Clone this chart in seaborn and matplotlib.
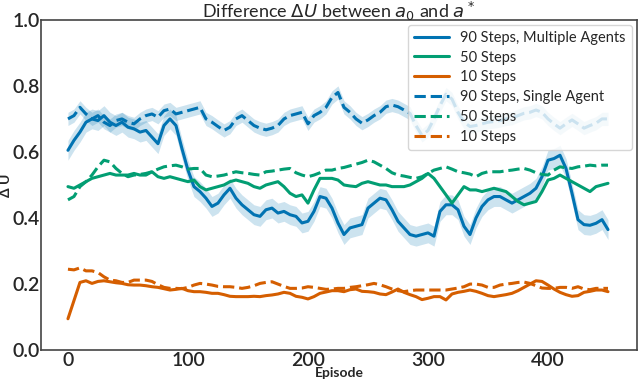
import numpy as np
import pandas as pd
import matplotlib
matplotlib.use("Agg")
import matplotlib.pyplot as plt
import seaborn as sns

episodes = list(range(0, 451, 5))

multi_90 = [0.605, 0.635, 0.66, 0.69, 0.70, 0.695, 0.71, 0.69, 0.68, 0.69,
            0.675, 0.67, 0.66, 0.665, 0.645, 0.625, 0.68, 0.70, 0.68, 0.61,
            0.545, 0.495, 0.48, 0.46, 0.435, 0.445, 0.47, 0.49, 0.46, 0.44,
            0.425, 0.41, 0.405, 0.425, 0.43, 0.415, 0.42, 0.41, 0.405, 0.385,
            0.39, 0.42, 0.465, 0.46, 0.43, 0.385, 0.35, 0.37, 0.375, 0.38,
            0.43, 0.445, 0.46, 0.455, 0.425, 0.39, 0.37, 0.35, 0.345, 0.35,
            0.355, 0.345, 0.42, 0.44, 0.44, 0.425, 0.375, 0.35, 0.40, 0.435,
            0.455, 0.465, 0.465, 0.455, 0.445, 0.455, 0.465, 0.475, 0.49, 0.525,
            0.575, 0.58, 0.59, 0.55, 0.475, 0.395, 0.38, 0.378, 0.384, 0.395,
            0.365]
single_90 = [0.70, 0.71, 0.735, 0.715, 0.70, 0.71, 0.69, 0.68, 0.695, 0.70,
             0.69, 0.685, 0.70, 0.71, 0.715, 0.705, 0.725, 0.73, 0.715, 0.72,
             0.725, 0.73, 0.735, 0.70, 0.69, 0.677, 0.665, 0.675, 0.70, 0.71,
             0.695, 0.68, 0.672, 0.667, 0.672, 0.68, 0.70, 0.71, 0.715, 0.72,
             0.685, 0.71, 0.72, 0.735, 0.765, 0.78, 0.735, 0.72, 0.70, 0.687,
             0.697, 0.71, 0.72, 0.737, 0.742, 0.737, 0.727, 0.717, 0.68, 0.65,
             0.665, 0.70, 0.74, 0.775, 0.76, 0.72, 0.69, 0.677, 0.68, 0.685,
             0.69, 0.692, 0.695, 0.70, 0.702, 0.71, 0.717, 0.72, 0.727, 0.72,
             0.70, 0.685, 0.672, 0.685, 0.697, 0.685, 0.672, 0.68, 0.687, 0.70,
             0.70]
multi_50 = [0.495, 0.49, 0.50, 0.51, 0.52, 0.525, 0.53, 0.535, 0.53, 0.53,
            0.53, 0.535, 0.53, 0.53, 0.54, 0.525, 0.52, 0.525, 0.52, 0.515,
            0.51, 0.515, 0.495, 0.485, 0.49, 0.495, 0.50, 0.51, 0.515, 0.51,
            0.505, 0.495, 0.49, 0.50, 0.505, 0.51, 0.495, 0.475, 0.465, 0.47,
            0.445, 0.485, 0.52, 0.52, 0.52, 0.515, 0.50, 0.497, 0.495, 0.505,
            0.51, 0.505, 0.50, 0.50, 0.495, 0.495, 0.495, 0.50, 0.51, 0.52,
            0.535, 0.52, 0.495, 0.47, 0.445, 0.47, 0.495, 0.485, 0.485, 0.48,
            0.485, 0.49, 0.485, 0.48, 0.465, 0.45, 0.44, 0.445, 0.45, 0.48,
            0.515, 0.52, 0.53, 0.52, 0.51, 0.50, 0.49, 0.48, 0.495, 0.50,
            0.505]
single_50 = [0.455, 0.465, 0.495, 0.51, 0.53, 0.555, 0.575, 0.57, 0.55, 0.535,
             0.525, 0.53, 0.532, 0.535, 0.54, 0.548, 0.555, 0.558, 0.56, 0.555,
             0.548, 0.55, 0.55, 0.53, 0.525, 0.527, 0.53, 0.535, 0.54, 0.537,
             0.535, 0.532, 0.53, 0.54, 0.542, 0.545, 0.548, 0.55, 0.537, 0.53,
             0.525, 0.53, 0.537, 0.545, 0.545, 0.55, 0.553, 0.558, 0.563, 0.568,
             0.575, 0.57, 0.56, 0.55, 0.537, 0.53, 0.527, 0.523, 0.52, 0.525,
             0.535, 0.545, 0.55, 0.555, 0.548, 0.54, 0.537, 0.533, 0.525, 0.535,
             0.54, 0.54, 0.54, 0.543, 0.545, 0.548, 0.55, 0.545, 0.537, 0.532,
             0.53, 0.545, 0.555, 0.552, 0.55, 0.555, 0.557, 0.56, 0.558, 0.56,
             0.56]
multi_10 = [0.095, 0.15, 0.205, 0.21, 0.202, 0.208, 0.21, 0.207, 0.204, 0.202,
            0.198, 0.197, 0.197, 0.195, 0.192, 0.19, 0.186, 0.182, 0.184, 0.187,
            0.18, 0.177, 0.177, 0.175, 0.172, 0.172, 0.168, 0.163, 0.162, 0.162,
            0.162, 0.163, 0.162, 0.165, 0.167, 0.17, 0.175, 0.172, 0.163, 0.16,
            0.155, 0.162, 0.172, 0.176, 0.18, 0.18, 0.177, 0.183, 0.185, 0.178,
            0.177, 0.175, 0.17, 0.168, 0.176, 0.185, 0.175, 0.168, 0.162, 0.153,
            0.157, 0.162, 0.162, 0.152, 0.17, 0.175, 0.178, 0.182, 0.178, 0.172,
            0.165, 0.162, 0.165, 0.168, 0.172, 0.18, 0.19, 0.20, 0.21, 0.208,
            0.197, 0.185, 0.175, 0.168, 0.163, 0.165, 0.175, 0.178, 0.182, 0.182,
            0.177]
single_10 = [0.245, 0.243, 0.249, 0.24, 0.24, 0.235, 0.222, 0.212, 0.21, 0.205,
             0.205, 0.212, 0.212, 0.212, 0.208, 0.198, 0.19, 0.187, 0.187, 0.186,
             0.19, 0.197, 0.202, 0.20, 0.197, 0.193, 0.192, 0.192, 0.19, 0.187,
             0.19, 0.195, 0.202, 0.205, 0.207, 0.20, 0.193, 0.187, 0.187, 0.188,
             0.192, 0.19, 0.187, 0.184, 0.185, 0.187, 0.187, 0.19, 0.192, 0.195,
             0.198, 0.202, 0.198, 0.192, 0.185, 0.18, 0.177, 0.18, 0.182, 0.182,
             0.182, 0.182, 0.182, 0.182, 0.185, 0.188, 0.192, 0.20, 0.20, 0.197,
             0.19, 0.19, 0.197, 0.20, 0.202, 0.205, 0.206, 0.202, 0.195, 0.188,
             0.187, 0.187, 0.19, 0.19, 0.187, 0.192, 0.185, 0.183, 0.187, 0.187,
             0.187]

band_90_multi = 0.03
band_90_single = 0.02

labels = ["90 Steps, Multiple Agents", "50 Steps", "10 Steps",
          "90 Steps, Single Agent", "50 Steps", "10 Steps"]

sns.set_theme(style="white")
plt.rcParams['font.family'] = ['Lato', 'DejaVu Sans']
plt.rcParams['mathtext.fontset'] = 'dejavusans'

pal = sns.color_palette("colorblind")
blue, orange, green = pal[0], pal[3], pal[2]

fig = plt.figure(figsize=(6.4, 3.81), dpi=100)
ax = fig.add_axes([0.064, 0.081, 0.931, 0.867])

ep = np.array(episodes)
m90 = np.array(multi_90)
s90 = np.array(single_90)
ax.fill_between(ep, m90 - band_90_multi, m90 + band_90_multi, color=blue, alpha=0.2, lw=0)
ax.fill_between(ep, s90 - band_90_single, s90 + band_90_single, color=blue, alpha=0.2, lw=0)

series = [(multi_90, blue, "-"), (multi_50, green, "-"), (multi_10, orange, "-"),
          (single_90, blue, "--"), (single_50, green, "--"), (single_10, orange, "--")]
for (vals, col, ls), lab in zip(series, labels):
    sns.lineplot(x=episodes, y=vals, color=col, linestyle=ls, linewidth=2.2,
                 label=lab, ax=ax)

ax.set_xlim(-22.5, 474)
ax.set_ylim(0, 1.0)
ax.set_xticks([0, 100, 200, 300, 400])
ax.set_yticks([0.0, 0.2, 0.4, 0.6, 0.8, 1.0])
ax.tick_params(labelsize=14, length=0, pad=1)
for t in ax.get_xticklabels() + ax.get_yticklabels():
    t.set_fontweight("semibold")
ax.set_title(r"Difference $\Delta U$ between $a_0$ and $a^*$", fontsize=13, pad=1)
ax.set_xlabel("Episode", fontsize=10, fontweight="bold", labelpad=-1)
ax.set_ylabel("Δ U", fontsize=10, fontweight="bold", labelpad=0)
for s in ax.spines.values():
    s.set_color("#444444")
    s.set_linewidth(1.2)
leg = ax.legend(loc="upper right", fontsize=10.5, frameon=True, borderaxespad=0.35,
                handlelength=2.4, labelspacing=0.4)
leg.get_frame().set_alpha(0.8)

fig.savefig("out.png", dpi=100)
